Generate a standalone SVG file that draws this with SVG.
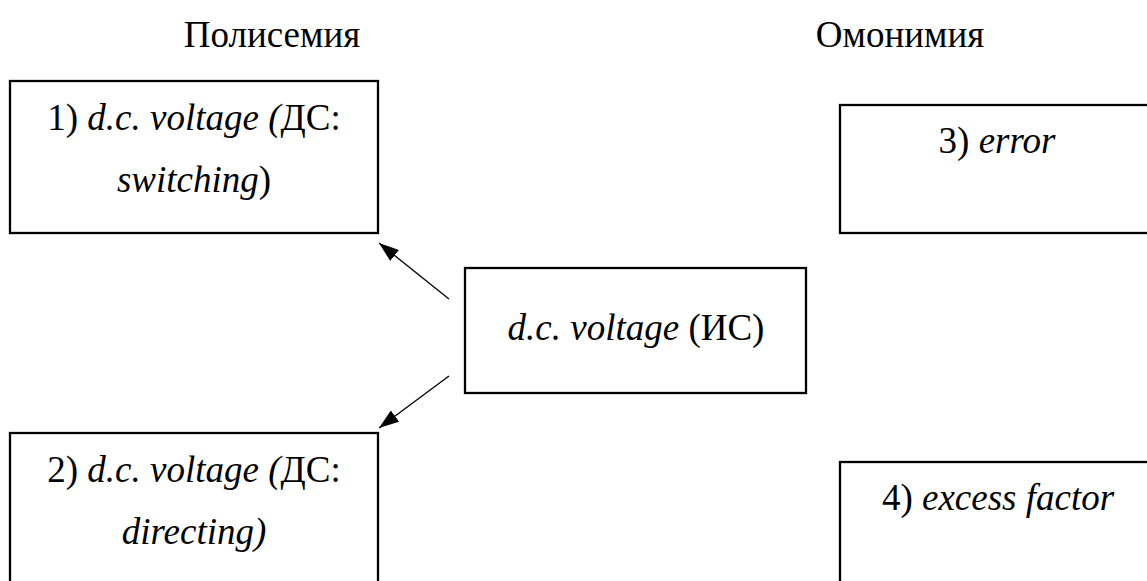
<svg xmlns="http://www.w3.org/2000/svg" width="1147" height="581" viewBox="0 0 1147 581">
<style>
.box{fill:#fff;stroke:#000;stroke-width:2.3}
text{font-family:"Liberation Serif","Times New Roman",serif;font-size:37px;fill:#000}
.t{text-anchor:middle}
.i{font-style:italic}
.conn{stroke:#000;stroke-width:1.3;fill:none}
</style>
<defs>
<marker id="ah" viewBox="0 0 20 14" refX="20" refY="7" markerWidth="20" markerHeight="14" markerUnits="userSpaceOnUse" orient="auto">
<path d="M0,0 L20,7 L0,14 Z" fill="#000"/>
</marker>
</defs>
<rect width="1147" height="581" fill="#fff"/>
<g id="title-polysemy"><text class="t" x="272" y="47">Полисемия</text></g>
<g id="title-homonymy"><text class="t" x="900" y="47">Омонимия</text></g>
<g id="node1">
<rect class="box" x="10" y="81" width="368" height="152"/>
<text class="t" x="194" y="130">1) <tspan class="i">d.c. voltage (</tspan>ДС:</text>
<text class="t" x="194" y="192"><tspan class="i">switching</tspan>)</text>
</g>
<g id="node2">
<rect class="box" x="10" y="433" width="368" height="170"/>
<text class="t" x="194" y="482">2) <tspan class="i">d.c. voltage (</tspan>ДС:</text>
<text class="t" x="194" y="544"><tspan class="i">directing)</tspan></text>
</g>
<g id="node-center">
<rect class="box" x="465" y="268" width="341" height="125"/>
<text class="t" x="636" y="340"><tspan class="i">d.c. voltage</tspan> (ИС)</text>
</g>
<g id="node3">
<rect class="box" x="840" y="105" width="320" height="128"/>
<text class="t" x="997" y="153">3) <tspan class="i">error</tspan></text>
</g>
<g id="node4">
<rect class="box" x="840" y="462" width="320" height="140"/>
<text class="t" x="998" y="510">4) <tspan class="i">excess factor</tspan></text>
</g>
<g id="connectors">
<line class="conn" x1="449" y1="299" x2="379" y2="243" marker-end="url(#ah)"/>
<line class="conn" x1="449" y1="376" x2="379" y2="428" marker-end="url(#ah)"/>
</g>
</svg>
